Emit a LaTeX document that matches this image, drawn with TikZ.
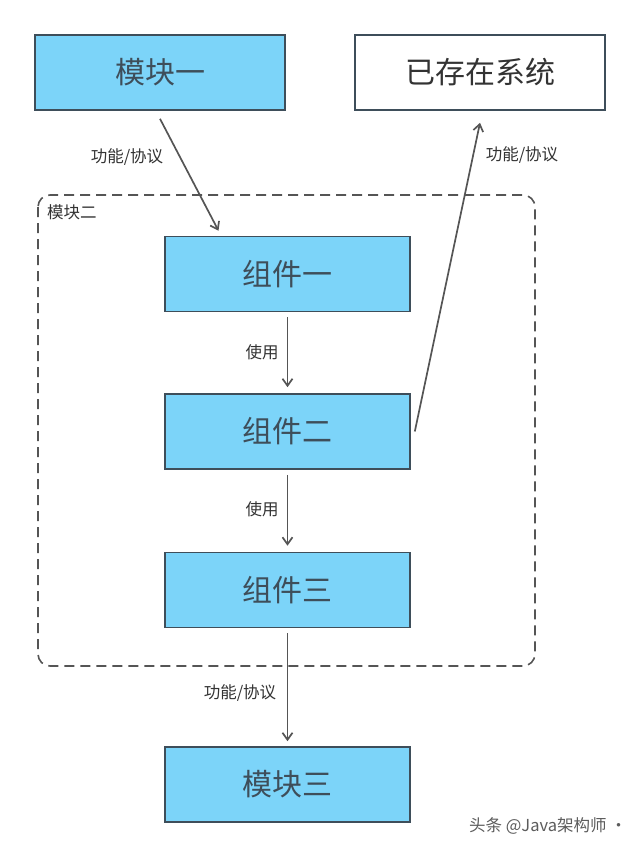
\documentclass[tikz,border=0pt]{standalone}
\usepackage{fontspec}
\setmainfont{Noto Sans CJK SC}
\usepackage{xcolor}
\usetikzlibrary{arrows.meta, positioning, calc}
\definecolor{BoxBlue}{RGB}{124,212,249}
\definecolor{BoxLine}{RGB}{62,78,90}
\definecolor{ArrowGray}{RGB}{85,85,85}
\definecolor{TextDark}{RGB}{51,51,51}
\tikzset{
  >={Straight Barb[length=7pt,width=10pt]},
  % blocchi
  box/.style={draw=BoxLine,line width=1.6pt,fill=BoxBlue,minimum width=245pt,
    minimum height=75pt,inner sep=0pt,text=BoxLine,font=\fontsize{30}{34}\selectfont},
  box module/.style={box,minimum width=250pt},
  box plain/.style={box module,fill=white,text=TextDark},
  % connessioni
  connect arrow/.style={->,line width=1.7pt,ArrowGray},
  label text/.style={text=TextDark,font=\fontsize{16.5}{19}\selectfont,inner sep=1pt}
}
\begin{document}
\begin{tikzpicture}[x=1pt,y=-1pt]
  \useasboundingbox (0,0) rectangle (640,848);
  % moduli in alto
  \node[box module] (modA) at (160,72.5) {模块一};
  \node[box plain] (sys) at (480,72.5) {已存在系统};
  % modulo due (contenitore)
  \draw[ArrowGray,line width=1.6pt,dash pattern=on 10pt off 6pt,rounded corners=12pt]
    (38,195) rectangle (535,666);
  \node[label text,anchor=west] (modB) at (46,212) {模块二};
  % componenti
  \node[box] (compA) at (287.5,274) {组件一};
  \node[box] (compB) at (287.5,431.5) {组件二};
  \node[box] (compC) at (287.5,590) {组件三};
  \node[box] (modC) at (287.5,784.5) {模块三};
  % frecce
  \draw[connect arrow] ([yshift=-8pt]modA.south) -- ([xshift=-69pt,yshift=5pt]compA.north);
  \draw[connect arrow] ([yshift=-5pt]compA.south) -- ([yshift=6pt]compB.north);
  \draw[connect arrow] ([yshift=-5pt]compB.south) -- ([yshift=6pt]compC.north);
  \draw[connect arrow] ([yshift=-5pt]compC.south) -- ([yshift=5pt]modC.north);
  \draw[connect arrow] ([xshift=4pt]compB.east) -- ([yshift=-12pt]sys.south);
  % etichette
  \node[label text] (lblA) at (127,157) {功能/协议};
  \node[label text] (lblB) at (522,155) {功能/协议};
  \node[label text] (useA) at (262,352) {使用};
  \node[label text] (useB) at (262,509) {使用};
  \node[label text] (lblC) at (240,693) {功能/协议};
  \node[text=TextDark!80,font=\fontsize{16.5}{19}\selectfont] (mark) at (548,826) {头条 @Java架构师 ·};
\end{tikzpicture}
\end{document}
